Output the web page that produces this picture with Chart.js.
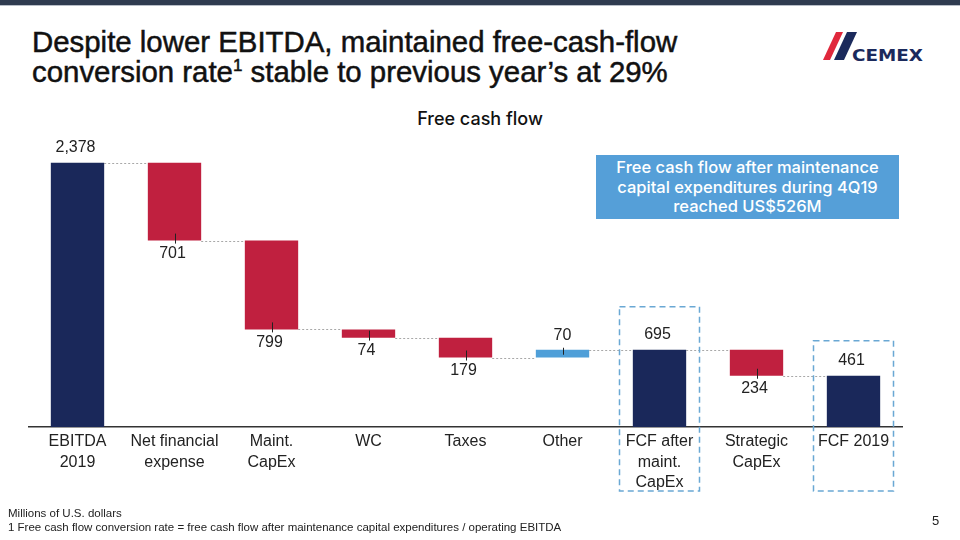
<!DOCTYPE html>
<html>
<head>
<meta charset="utf-8">
<script src="https://cdn.jsdelivr.net/npm/chart.js@4.4.1/dist/chart.umd.min.js"></script>
<style>
  body { margin: 0; width: 960px; height: 540px; position: relative; overflow: hidden; background: #fff; font-family: "Liberation Sans", Arial, sans-serif; }
  .topbar { position: absolute; left: 0; top: 0; width: 960px; height: 5px; background: #2f3b50; border-bottom: 1px solid #b8bec8; }
  h1 { position: absolute; left: 32px; top: 27px; margin: 0; font-size: 29.4px; line-height: 30px; font-weight: normal; color: #111; -webkit-text-stroke: 0.5px #111; white-space: nowrap; }
  h1 sup { font-size: 17px; line-height: 0; vertical-align: 11px; }
  .logo { position: absolute; left: 810px; top: 26px; }
  .subtitle { position: absolute; left: 0; width: 960px; top: 108px; text-align: center; font-family: Inter, "Open Sans", sans-serif; font-size: 18px; font-weight: 500; color: #111; }
  .callout { position: absolute; left: 596px; top: 155px; width: 303px; height: 64px; background: #559fd8; color: #fff; text-align: center; font-family: Inter, "Open Sans", sans-serif; font-size: 16.5px; font-weight: 500; line-height: 19.5px; padding-top: 3px; box-sizing: border-box; }
  #wrap { position: absolute; left: 0; top: 100px; width: 960px; height: 420px; }
  .foot { position: absolute; left: 8px; top: 506px; font-size: 11.5px; line-height: 14px; color: #222; }
  .page { position: absolute; left: 932px; top: 513px; font-size: 13px; color: #222; }
</style>
</head>
<body>
<div class="topbar"></div>
<h1>Despite lower EBITDA, maintained free-cash-flow<br>conversion rate<sup>1</sup> stable to previous year’s at 29%</h1>
<svg class="logo" width="125" height="40" viewBox="0 0 125 40">
  <polygon points="13,34 20,34 33,6 26,6" fill="#e0283c"/>
  <polygon points="24,34 34,34 47,6 37,6" fill="#1b2a5c"/>
  <text x="42" y="35" font-family="'DejaVu Sans', 'Liberation Sans', sans-serif" font-size="15" font-weight="bold" fill="#1b2a5c" textLength="71" lengthAdjust="spacingAndGlyphs">CEMEX</text>
</svg>
<div class="subtitle">Free cash flow</div>
<div id="wrap"><canvas id="myChart"></canvas></div>
<div class="callout">Free cash flow after maintenance<br>capital expenditures during 4Q19<br>reached US$526M</div>
<div class="foot">Millions of U.S. dollars<br>1 Free cash flow conversion rate = free cash flow after maintenance capital expenditures / operating EBITDA</div>
<div class="page">5</div>

<script>
const categories = [['EBITDA', '2019'], ['Net financial', 'expense'], ['Maint.', 'CapEx'], 'WC', 'Taxes', 'Other', ['FCF after', 'maint.', 'CapEx'], ['Strategic', 'CapEx'], 'FCF 2019'];
const values = [2378, -701, -799, -74, -179, 70, 695, -234, 461];
const isTotal = [true, false, false, false, false, false, true, false, true];
const boxed = [6, 8];

const NAVY = '#1a285a';
const RED = '#c0203f';
const LIGHT = '#4f9fd8';

// running totals -> floating bars
let run = 0;
const ranges = values.map((v, i) => {
    if (isTotal[i]) { run = v; return [0, v]; }
    const start = run;
    run += v;
    return [start, run];
});
const colors = values.map((v, i) => isTotal[i] ? NAVY : (v < 0 ? RED : LIGHT));

const waterfallExtras = {
    id: 'waterfallExtras',
    beforeDatasetsDraw(chart) {
        const ctx = chart.ctx;
        const y = chart.scales.y;
        const bars = chart.getDatasetMeta(0).data;
        ctx.save();
        ctx.strokeStyle = '#a8a8a8';
        ctx.lineWidth = 1;
        ctx.setLineDash([2, 2]);
        for (let i = 0; i < bars.length - 1; i++) {
            const yy = Math.round(y.getPixelForValue(ranges[i][1])) + 0.5;
            ctx.beginPath();
            ctx.moveTo(bars[i].x + bars[i].width / 2, yy);
            ctx.lineTo(bars[i + 1].x - bars[i + 1].width / 2, yy);
            ctx.stroke();
        }
        ctx.restore();
    },
    afterDatasetsDraw(chart) {
        const ctx = chart.ctx;
        const y = chart.scales.y;
        const bars = chart.getDatasetMeta(0).data;
        ctx.save();
        ctx.font = '16px "Liberation Sans", Arial, sans-serif';
        ctx.fillStyle = '#222';
        ctx.textAlign = 'center';
        ctx.textBaseline = 'middle';
        bars.forEach((b, i) => {
            const v = values[i];
            const endY = y.getPixelForValue(ranges[i][1]);
            const txt = Math.abs(v).toLocaleString('en-US');
            if (isTotal[i]) {
                ctx.fillText(txt, b.x - 2, endY - 15);
            } else {
                ctx.strokeStyle = '#222';
                ctx.lineWidth = 1;
                ctx.beginPath();
                const x = Math.round(b.x) + 0.5;
                if (v < 0) {
                    ctx.moveTo(x, endY - 7); ctx.lineTo(x, endY + 3);
                    ctx.stroke();
                    ctx.fillText(txt, b.x - 2, endY + 13);
                } else {
                    ctx.moveTo(x, endY - 2); ctx.lineTo(x, endY + 5);
                    ctx.stroke();
                    ctx.fillText(txt, b.x, endY - 14);
                }
            }
        });
        // dashed highlight boxes
        ctx.strokeStyle = '#6aa8d4';
        ctx.lineWidth = 1.5;
        ctx.setLineDash([6, 4]);
        const tops = { 6: 43, 8: 35 };
        boxed.forEach(i => {
            const b = bars[i];
            const top = y.getPixelForValue(ranges[i][1]) - tops[i];
            const bottom = chart.chartArea.bottom + 64;
            ctx.strokeRect(b.x - 40, top, 80, bottom - top);
        });
        ctx.restore();
    }
};

const dataChart = {
    labels: categories,
    datasets: [{
        data: ranges,
        backgroundColor: colors,
        borderWidth: 0,
        borderSkipped: false,
        barPercentage: 0.55,
        categoryPercentage: 1.0
    }]
};

const config = {
    type: 'bar',
    data: dataChart,
    options: {
        responsive: true,
        maintainAspectRatio: false,
        animation: false,
        layout: { padding: { left: 29, right: 58, top: 38, bottom: 0 } },
        plugins: { legend: { display: false }, tooltip: { enabled: false } },
        scales: {
            x: {
                grid: { display: false, drawTicks: false },
                border: { display: true, color: '#333', width: 1.5 },
                ticks: {
                    color: '#222',
                    padding: 4,
                    maxRotation: 0,
                    autoSkip: false,
                    font: { family: '"Liberation Sans", Arial, sans-serif', size: 16, lineHeight: 1.3 }
                },
                afterFit(scale) { scale.height = 93; }
            },
            y: { display: false, min: 0, max: 2600 }
        }
    },
    plugins: [waterfallExtras]
};

const myChart = new Chart(document.getElementById('myChart'), config);
</script>
</body>
</html>
